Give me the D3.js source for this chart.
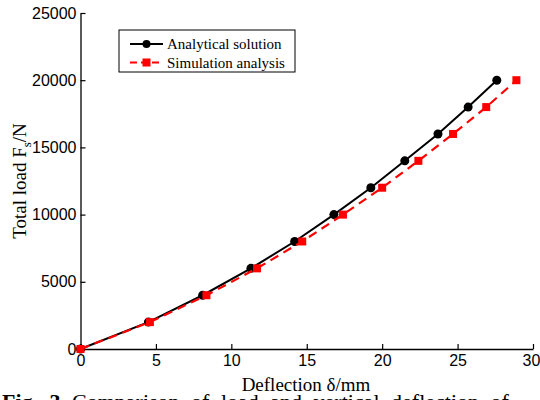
<!DOCTYPE html>
<html>
<head>
<meta charset="utf-8">
<title>Load - deflection</title>
<script src="https://cdn.jsdelivr.net/npm/d3@7/dist/d3.min.js"></script>
<style>
  body { margin: 0; background: #fff; }
  svg { display: block; }
</style>
</head>
<body>
<script>
    var w = 540, h = 400;

    // data
    var loads = [0, 2000, 4000, 6000, 8000, 10000, 12000, 14000, 16000, 18000, 20000];
    var analytical = [0, 4.5, 8.1, 11.3, 14.2, 16.8, 19.25, 21.5, 23.7, 25.7, 27.6];
    var simulation = [0, 4.6, 8.35, 11.7, 14.7, 17.4, 20.0, 22.4, 24.7, 26.9, 28.9];
    var xTicks = [0, 5, 10, 15, 20, 25, 30];
    var yTicks = [0, 5000, 10000, 15000, 20000, 25000];
    var seriesNames = ['Analytical solution', 'Simulation analysis'];

    var x = d3.scaleLinear().domain([0, 30]).range([80.5, 533]);
    var y = d3.scaleLinear().domain([0, 25000]).range([349, 13]);

    var svg = d3.select('body').append('svg')
        .attr('width', w).attr('height', h);

    // axes, ticks pointing inward
    var xAxis = svg.append('g').attr('transform', 'translate(0,' + y(0) + ')')
        .call(d3.axisBottom(x).tickValues(xTicks).tickFormat(d3.format('d'))
            .tickSizeInner(-5).tickSizeOuter(0));
    var yAxis = svg.append('g').attr('transform', 'translate(' + x(0) + ',0)')
        .call(d3.axisLeft(y).tickValues(yTicks).tickFormat(d3.format('d'))
            .tickSizeInner(-5).tickSizeOuter(0).tickPadding(4));

    [xAxis, yAxis].forEach(function (g) {
        g.select('.domain').attr('stroke', '#000').attr('stroke-width', 1.3);
        g.selectAll('.tick line').attr('stroke', '#000').attr('stroke-width', 1.2);
        g.selectAll('.tick text').attr('fill', '#000')
            .style('font-family', 'Liberation Sans, Arial, sans-serif')
            .style('font-size', '16px');
    });
    xAxis.selectAll('.tick text').attr('y', 6);
    xAxis.selectAll('.tick text').filter(function (d) { return d === 30; }).attr('dx', '-2');

    var ptsA = loads.map(function (v, i) { return [analytical[i], v]; });
    var ptsS = loads.map(function (v, i) { return [simulation[i], v]; });

    var line = d3.line()
        .x(function (d) { return x(d[0]); })
        .y(function (d) { return y(d[1]); });

    svg.append('path').datum(ptsA)
        .attr('d', line).attr('fill', 'none')
        .attr('stroke', '#000').attr('stroke-width', 2);

    svg.selectAll('circle.a').data(ptsA).enter().append('circle')
        .attr('class', 'a')
        .attr('cx', function (d) { return x(d[0]); })
        .attr('cy', function (d) { return y(d[1]); })
        .attr('r', 4.5).attr('fill', '#000');

    svg.append('path').datum(ptsS)
        .attr('d', line).attr('fill', 'none')
        .attr('stroke', '#ff0000').attr('stroke-width', 2.2)
        .attr('stroke-dasharray', '9,6');

    svg.selectAll('rect.s').data(ptsS).enter().append('rect')
        .attr('class', 's')
        .attr('x', function (d) { return x(d[0]) - 4; })
        .attr('y', function (d) { return y(d[1]) - 4; })
        .attr('width', 8).attr('height', 8).attr('fill', '#ff0000');

    // legend
    var lg = svg.append('g').attr('transform', 'translate(119,30)');
    lg.append('rect').attr('width', 176).attr('height', 42)
        .attr('fill', '#fff').attr('stroke', '#000').attr('stroke-width', 1);
    var rows = lg.selectAll('g.row').data(seriesNames).enter().append('g')
        .attr('class', 'row')
        .attr('transform', function (d, i) { return 'translate(0,' + (14 + i * 18.5) + ')'; });
    rows.append('line')
        .attr('x1', 11).attr('x2', 44).attr('y1', 0).attr('y2', 0)
        .attr('stroke', function (d, i) { return i ? '#ff0000' : '#000'; })
        .attr('stroke-width', 2)
        .attr('stroke-dasharray', function (d, i) { return i ? '7,4' : null; });
    rows.filter(function (d, i) { return i === 0; }).append('circle')
        .attr('cx', 27.5).attr('cy', 0).attr('r', 4).attr('fill', '#000');
    rows.filter(function (d, i) { return i === 1; }).append('rect')
        .attr('x', 23.5).attr('y', -4).attr('width', 8).attr('height', 8).attr('fill', '#ff0000');
    rows.append('text')
        .attr('x', 48).attr('y', 5)
        .style('font-family', 'Liberation Serif, Times New Roman, serif')
        .style('font-size', '15px')
        .text(function (d) { return d; });

    // axis titles
    svg.append('text')
        .attr('x', 306).attr('y', 391).attr('text-anchor', 'middle')
        .style('font-family', 'Liberation Serif, Times New Roman, serif')
        .style('font-size', '19px')
        .text('Deflection δ/mm');

    var yt = svg.append('text')
        .attr('transform', 'translate(26,181) rotate(-90)')
        .attr('text-anchor', 'middle')
        .style('font-family', 'Liberation Serif, Times New Roman, serif')
        .style('font-size', '19px');
    yt.append('tspan').text('Total load F');
    yt.append('tspan').attr('dy', 5).style('font-size', '13px').text('s');
    yt.append('tspan').attr('dy', -5).text('/N');

    // caption, cut off by the bottom edge
    svg.append('text')
        .attr('x', 2).attr('y', 409)
        .style('font-family', 'Liberation Serif, Times New Roman, serif')
        .style('font-size', '22px')
        .style('word-spacing', '6px')
        .html('<tspan font-weight="bold">Fig. 3</tspan>  Comparison of load and vertical deflection of');
</script>
</body>
</html>
